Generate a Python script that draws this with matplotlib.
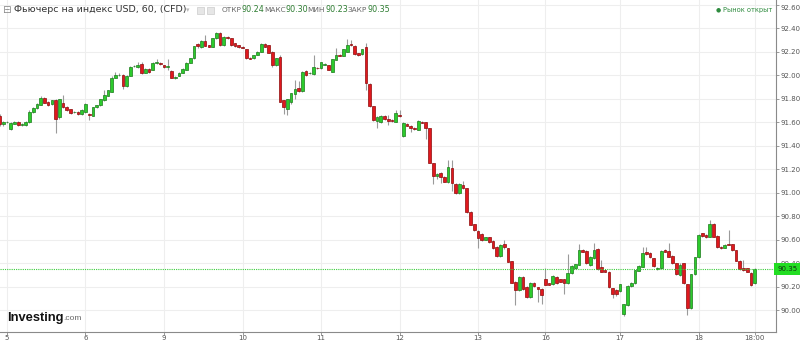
import numpy as np
import matplotlib
matplotlib.use("Agg")
import matplotlib.pyplot as plt

# hourly candles (index 0 .. 202)
opens = [91.65, 91.58, 91.60, 91.54, 91.585, 91.60, 91.575, 91.575, 91.60, 91.69,
         91.72, 91.75, 91.805, 91.77, 91.755, 91.79, 91.645, 91.765, 91.73, 91.71,
         91.685, 91.69, 91.67, 91.685, 91.67, 91.655, 91.725, 91.745, 91.785, 91.825,
         91.86, 91.98, 92.00, 92.00, 91.91, 91.995, 92.075, 92.07, 92.095, 92.02,
         92.055, 92.045, 92.10, 92.105, 92.085, 92.07, 92.035, 91.98, 91.995, 92.02,
         92.045, 92.105, 92.145, 92.265, 92.237, 92.294, 92.254, 92.243, 92.314, 92.36,
         92.257, 92.328, 92.314, 92.27, 92.257, 92.24, 92.22, 92.15, 92.143, 92.172,
         92.20, 92.266, 92.257, 92.20, 92.087, 92.157, 91.788, 91.709, 91.774, 91.84,
         91.888, 91.868, 92.038, 92.016, 92.01, 92.064, 92.058, 92.09, 92.087, 92.03,
         92.13, 92.172, 92.163, 92.20, 92.262, 92.249, 92.186, 92.18, 92.237, 91.925,
         91.737, 91.613, 91.60, 91.652, 91.629, 91.62, 91.604, 91.66, 91.48, 91.584,
         91.567, 91.55, 91.533, 91.604, 91.60, 91.547, 91.249, 91.14, 91.17, 91.135,
         91.093, 91.206, 91.073, 90.993, 91.064, 91.036, 90.837, 90.73, 90.675, 90.65,
         90.60, 90.618, 90.59, 90.54, 90.46, 90.562, 90.525, 90.417, 90.241, 90.17,
         90.284, 90.20, 90.113, 90.227, 90.193, 90.18, 90.261, 90.227, 90.221, 90.284,
         90.261, 90.261, 90.233, 90.312, 90.355, 90.383, 90.511, 90.505, 90.383, 90.44,
         90.52, 90.368, 90.34, 90.326, 90.184, 90.17, 90.164, 89.965, 90.042, 90.204,
         90.227, 90.335, 90.37, 90.491, 90.488, 90.44, 90.35, 90.355, 90.511, 90.505,
         90.46, 90.397, 90.298, 90.397, 90.218, 90.02, 90.307, 90.449, 90.653, 90.64,
         90.625, 90.733, 90.63, 90.54, 90.531, 90.565, 90.562, 90.511, 90.42, 90.355,
         90.355, 90.318, 90.227]
highs = [91.67, 91.61, 91.61, 91.60, 91.61, 91.61, 91.59, 91.61, 91.70, 91.725,
         91.76, 91.825, 91.81, 91.78, 91.79, 91.80, 91.80, 91.83, 91.74, 91.715,
         91.695, 91.695, 91.71, 91.76, 91.675, 91.73, 91.75, 91.80, 91.87, 91.875,
         91.99, 92.03, 92.02, 92.01, 92.00, 92.08, 92.085, 92.115, 92.11, 92.06,
         92.06, 92.115, 92.14, 92.115, 92.09, 92.135, 92.04, 91.99, 92.025, 92.06,
         92.11, 92.15, 92.25, 92.275, 92.30, 92.34, 92.26, 92.32, 92.37, 92.365,
         92.33, 92.335, 92.32, 92.275, 92.26, 92.245, 92.225, 92.155, 92.175, 92.205,
         92.27, 92.27, 92.26, 92.205, 92.15, 92.17, 91.79, 91.80, 91.85, 91.96,
         91.95, 92.035, 92.045, 92.025, 92.17, 92.07, 92.115, 92.10, 92.09, 92.14,
         92.23, 92.18, 92.225, 92.305, 92.30, 92.255, 92.19, 92.225, 92.27, 91.93,
         91.74, 91.65, 91.66, 91.66, 91.66, 91.625, 91.70, 91.70, 91.60, 91.59,
         91.575, 91.555, 91.62, 91.61, 91.605, 91.55, 91.255, 91.165, 91.175, 91.14,
         91.277, 91.277, 91.08, 91.08, 91.10, 91.04, 90.84, 90.735, 90.68, 90.655,
         90.625, 90.625, 90.595, 90.545, 90.56, 90.60, 90.53, 90.42, 90.245, 90.29,
         90.29, 90.205, 90.235, 90.235, 90.20, 90.185, 90.36, 90.23, 90.295, 90.29,
         90.265, 90.265, 90.48, 90.38, 90.395, 90.562, 90.52, 90.51, 90.46, 90.575,
         90.53, 90.425, 90.345, 90.33, 90.19, 90.18, 90.225, 90.055, 90.21, 90.235,
         90.345, 90.38, 90.54, 90.54, 90.495, 90.445, 90.365, 90.51, 90.52, 90.575,
         90.465, 90.40, 90.40, 90.40, 90.225, 90.31, 90.45, 90.645, 90.66, 90.65,
         90.767, 90.74, 90.635, 90.545, 90.56, 90.68, 90.565, 90.515, 90.43, 90.43,
         90.36, 90.32, 90.355]
lows = [91.57, 91.57, 91.59, 91.53, 91.58, 91.565, 91.57, 91.57, 91.595, 91.68,
        91.71, 91.745, 91.76, 91.74, 91.75, 91.51, 91.63, 91.72, 91.695, 91.67,
        91.675, 91.665, 91.665, 91.68, 91.62, 91.65, 91.72, 91.74, 91.78, 91.82,
        91.855, 91.975, 91.99, 91.885, 91.90, 91.99, 92.07, 92.065, 92.01, 92.015,
        92.02, 92.04, 92.095, 92.09, 92.06, 92.045, 91.975, 91.97, 91.99, 92.015,
        92.04, 92.10, 92.14, 92.235, 92.23, 92.245, 92.24, 92.24, 92.31, 92.25,
        92.25, 92.31, 92.25, 92.24, 92.23, 92.23, 92.14, 92.135, 92.14, 92.17,
        92.195, 92.24, 92.19, 92.067, 92.08, 91.77, 91.67, 91.66, 91.755, 91.80,
        91.86, 91.86, 91.995, 92.01, 92.005, 92.05, 92.05, 92.085, 92.04, 92.025,
        92.125, 92.16, 92.16, 92.195, 92.25, 92.175, 92.165, 92.175, 91.87, 91.73,
        91.61, 91.55, 91.59, 91.62, 91.575, 91.60, 91.60, 91.645, 91.475, 91.565,
        91.52, 91.53, 91.53, 91.59, 91.46, 91.25, 91.07, 91.12, 91.085, 91.09,
        91.085, 91.016, 90.99, 90.985, 91.03, 90.83, 90.72, 90.675, 90.525, 90.59,
        90.595, 90.57, 90.52, 90.45, 90.455, 90.52, 90.405, 90.23, 90.04, 90.165,
        90.17, 90.10, 90.105, 90.20, 90.07, 90.055, 90.21, 90.21, 90.215, 90.22,
        90.235, 90.14, 90.225, 90.305, 90.35, 90.38, 90.49, 90.39, 90.375, 90.435,
        90.34, 90.32, 90.32, 90.19, 90.10, 90.12, 90.155, 89.948, 90.035, 90.20,
        90.22, 90.33, 90.365, 90.47, 90.44, 90.37, 90.34, 90.35, 90.49, 90.45,
        90.39, 90.30, 90.29, 90.22, 89.957, 90.01, 90.30, 90.44, 90.625, 90.61,
        90.62, 90.62, 90.53, 90.52, 90.525, 90.55, 90.505, 90.415, 90.34, 90.335,
        90.32, 90.205, 90.22]
closes = [91.58, 91.60, 91.605, 91.59, 91.60, 91.575, 91.58, 91.60, 91.69, 91.72,
          91.755, 91.805, 91.765, 91.75, 91.785, 91.63, 91.795, 91.725, 91.70, 91.675,
          91.687, 91.67, 91.70, 91.755, 91.66, 91.725, 91.745, 91.795, 91.83, 91.87,
          91.98, 92.005, 92.005, 91.91, 91.99, 92.07, 92.078, 92.09, 92.015, 92.05,
          92.03, 92.105, 92.115, 92.098, 92.07, 92.075, 91.98, 91.985, 92.02, 92.055,
          92.105, 92.145, 92.245, 92.245, 92.294, 92.251, 92.243, 92.314, 92.356, 92.257,
          92.322, 92.314, 92.257, 92.249, 92.237, 92.235, 92.143, 92.14, 92.172, 92.20,
          92.266, 92.243, 92.192, 92.087, 92.143, 91.774, 91.726, 91.797, 91.845, 91.882,
          91.868, 92.03, 92.00, 92.02, 92.072, 92.058, 92.11, 92.092, 92.044, 92.135,
          92.17, 92.163, 92.22, 92.257, 92.254, 92.18, 92.172, 92.22, 91.93, 91.737,
          91.618, 91.647, 91.652, 91.627, 91.612, 91.607, 91.675, 91.65, 91.59, 91.57,
          91.547, 91.54, 91.61, 91.595, 91.547, 91.255, 91.14, 91.16, 91.13, 91.093,
          91.215, 91.078, 90.993, 91.073, 91.036, 90.837, 90.723, 90.68, 90.61, 90.596,
          90.618, 90.576, 90.525, 90.46, 90.553, 90.534, 90.412, 90.233, 90.17, 90.284,
          90.176, 90.108, 90.227, 90.204, 90.176, 90.128, 90.216, 90.216, 90.29, 90.227,
          90.241, 90.233, 90.312, 90.375, 90.389, 90.511, 90.497, 90.397, 90.454, 90.51,
          90.346, 90.326, 90.327, 90.198, 90.136, 90.136, 90.218, 90.05, 90.204, 90.232,
          90.34, 90.374, 90.488, 90.474, 90.449, 90.375, 90.36, 90.505, 90.497, 90.454,
          90.397, 90.307, 90.383, 90.227, 90.02, 90.307, 90.449, 90.639, 90.63, 90.62,
          90.733, 90.625, 90.534, 90.525, 90.554, 90.554, 90.511, 90.42, 90.346, 90.34,
          90.327, 90.213, 90.35]

day_pos = [2, 23, 44, 65, 86, 107, 128, 146, 166, 187, 202]
day_labels = ["5", "6", "9", "10", "11", "12", "13", "16", "17", "18", "18:00"]
price_ticks = [90.0, 90.2, 90.4, 90.6, 90.8, 91.0, 91.2, 91.4, 91.6, 91.8, 92.0, 92.2, 92.4, 92.6]
last_price = 90.35

o = np.array(opens)
h = np.array(highs)
l = np.array(lows)
c = np.array(closes)
x = np.arange(len(o))
up = c >= o

fig = plt.figure(figsize=(8, 3.42), dpi=100)
ax = fig.add_axes([0, 10 / 342, 776 / 800, 332 / 342])

ax.set_xlim(0.13, 207.7)
ax.set_ylim(89.813, 92.64)

# grid
for p in price_ticks:
    ax.axhline(p, color="#eeeeee", lw=0.8, zorder=0)
for d in day_pos:
    ax.axvline(d, color="#eeeeee", lw=0.8, zorder=0)

# wicks
ax.vlines(x, l, h, color="#9a9a9a", lw=0.8, zorder=1)
# bodies
body = np.maximum(np.abs(c - o), 0.004)
bottom = np.minimum(o, c)
ax.bar(x[up], body[up], bottom=bottom[up], width=0.72, color="#2ccb2c",
       edgecolor="#1a7a1a", linewidth=0.5, zorder=2)
ax.bar(x[~up], body[~up], bottom=bottom[~up], width=0.72, color="#e0181e",
       edgecolor="#8c0a0a", linewidth=0.5, zorder=2)

# last price line
ax.axhline(last_price, color="#3ccc3c", lw=0.8, ls=(0, (1, 1)), zorder=3)
ax.text(1.002, last_price, "%.2f" % last_price, transform=ax.get_yaxis_transform(),
        ha="left", va="center", fontsize=5, color="#103010", clip_on=False,
        bbox=dict(facecolor="#22dd22", edgecolor="none", pad=2.2), zorder=5)

# axes styling
for s in ["top", "left"]:
    ax.spines[s].set_visible(False)
ax.spines["right"].set_color("#8a8a8a")
ax.spines["bottom"].set_color("#8a8a8a")
ax.yaxis.tick_right()
ax.set_yticks(price_ticks)
ax.set_yticklabels(["%.2f" % p for p in price_ticks])
ax.set_xticks(day_pos)
ax.set_xticklabels(day_labels)
ax.tick_params(axis="y", length=2.5, width=0.6, color="#8a8a8a", labelsize=5,
               labelcolor="#555555", pad=1)
ax.tick_params(axis="x", length=2, width=0.6, color="#8a8a8a", labelsize=5,
               labelcolor="#555555", pad=0.3)
ax.get_yticklabels()[-1].set_va("top")

# header texts
def px(xp, yp):
    return xp / 800, 1 - yp / 342

fig.text(*px(2, 10), "\u229f", fontsize=7.5, color="#888888", va="center")
fig.text(*px(14, 10), "Фьючерс на индекс USD, 60, (CFD)", fontsize=6.8,
         color="#333333", va="center")
fig.text(*px(186, 10), "\u25be", fontsize=5, color="#bbbbbb", va="center")
for xi in [197, 207]:
    fig.patches.append(plt.Rectangle(px(xi, 14), 7 / 800, 7 / 342,
                                     transform=fig.transFigure, facecolor="#e6e6e6",
                                     edgecolor="#cccccc", lw=0.5))
hdr = [(222, "ОТКР", "#666666"), (242, "90.24", "#2e7d32"),
       (264, "МАКС", "#666666"), (286, "90.30", "#2e7d32"),
       (307, "МИН", "#666666"), (326, "90.23", "#2e7d32"),
       (348, "ЗАКР", "#666666"), (368, "90.35", "#2e7d32")]
for xp, t, col in hdr:
    fig.text(*px(xp, 10), t, fontsize=5.3 if col == "#666666" else 5.8,
             color=col, va="center")

fig.text(*px(716, 10), "\u25cf", fontsize=4.2, color="#2e8b3e", va="center")
fig.text(*px(772, 10), "Рынок открыт", fontsize=4.8, color="#2e8b3e",
         va="center", ha="right")

# logo
fig.text(*px(7, 318), "Investing", fontsize=9.3, fontweight="bold",
         family="Liberation Sans", color="#111111", va="center")
fig.text(*px(63, 319), ".com", fontsize=6, family="Liberation Sans",
         color="#666666", va="center")

fig.savefig("out.png", dpi=100)
